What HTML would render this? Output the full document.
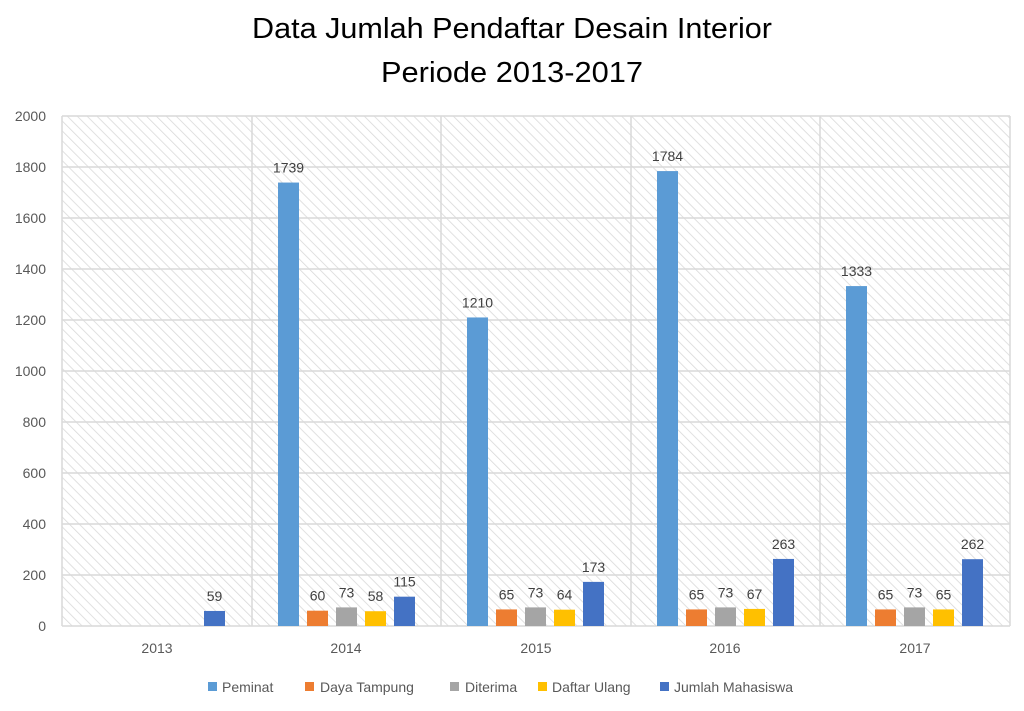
<!DOCTYPE html>
<html><head><meta charset="utf-8"><style>
body{margin:0;background:#fff}
svg text{font-family:"Liberation Sans",sans-serif}
</style></head><body>
<svg width="1024" height="706" xmlns="http://www.w3.org/2000/svg">
<defs>
<pattern id="h" width="7" height="7" patternUnits="userSpaceOnUse" patternTransform="rotate(-45)">
<rect width="7" height="7" fill="#fff"/><line x1="0" y1="0" x2="0" y2="7" stroke="#d9d9d9" stroke-width="1.6"/>
</pattern>
</defs>
<rect width="1024" height="706" fill="#fff"/>
<text x="512" y="38" font-size="29" text-anchor="middle" fill="#000" textLength="520" lengthAdjust="spacingAndGlyphs">Data Jumlah Pendaftar Desain Interior</text>
<text x="512" y="82" font-size="29" text-anchor="middle" fill="#000" textLength="262" lengthAdjust="spacingAndGlyphs">Periode 2013-2017</text>
<rect x="62" y="116" width="948" height="510" fill="url(#h)"/>
<g stroke="#d9d9d9" stroke-width="1.5">
<line x1="62" y1="116" x2="1010" y2="116"/><line x1="62" y1="167" x2="1010" y2="167"/><line x1="62" y1="218" x2="1010" y2="218"/><line x1="62" y1="269" x2="1010" y2="269"/><line x1="62" y1="320" x2="1010" y2="320"/><line x1="62" y1="371" x2="1010" y2="371"/><line x1="62" y1="422" x2="1010" y2="422"/><line x1="62" y1="473" x2="1010" y2="473"/><line x1="62" y1="524" x2="1010" y2="524"/><line x1="62" y1="575" x2="1010" y2="575"/>
<line x1="62" y1="116" x2="62" y2="626"/><line x1="252" y1="116" x2="252" y2="626"/><line x1="441" y1="116" x2="441" y2="626"/><line x1="631" y1="116" x2="631" y2="626"/><line x1="820" y1="116" x2="820" y2="626"/><line x1="1010" y1="116" x2="1010" y2="626"/>
<line x1="62" y1="626" x2="1010" y2="626"/>
</g>
<g font-size="14" fill="#595959" text-anchor="end">
<text x="46" y="121">2000</text><text x="46" y="172">1800</text><text x="46" y="223">1600</text><text x="46" y="274">1400</text><text x="46" y="325">1200</text><text x="46" y="376">1000</text><text x="46" y="427">800</text><text x="46" y="478">600</text><text x="46" y="529">400</text><text x="46" y="580">200</text><text x="46" y="631">0</text>
</g>
<g font-size="14" fill="#595959" text-anchor="middle">
<text x="157" y="653">2013</text><text x="346" y="653">2014</text><text x="536" y="653">2015</text><text x="725" y="653">2016</text><text x="915" y="653">2017</text>
</g>
<g id="bars"></g>
<g font-size="14" fill="#404040" text-anchor="middle" id="lbl"></g>
<g font-size="14" fill="#595959">
<rect x="208" y="682" width="9" height="9" fill="#5b9bd5"/><text x="222" y="692">Peminat</text>
<rect x="305" y="682" width="9" height="9" fill="#ed7d31"/><text x="320" y="692">Daya Tampung</text>
<rect x="450" y="682" width="9" height="9" fill="#a5a5a5"/><text x="465" y="692">Diterima</text>
<rect x="538" y="682" width="9" height="9" fill="#ffc000"/><text x="552" y="692">Daftar Ulang</text>
<rect x="660" y="682" width="9" height="9" fill="#4472c4"/><text x="674" y="692">Jumlah Mahasiswa</text>
</g>
<script>
var d=[[null,null,null,null,59],[1739,60,73,58,115],[1210,65,73,64,173],[1784,65,73,67,263],[1333,65,73,65,262]];
var c=["#5b9bd5","#ed7d31","#a5a5a5","#ffc000","#4472c4"];
var g0=[62,252,441,631,820],ns="http://www.w3.org/2000/svg",b=document.getElementById("bars"),l=document.getElementById("lbl");
d.forEach(function(r,i){r.forEach(function(v,j){if(v==null)return;var x=g0[i]+26+j*29,h=v*0.255;
var e=document.createElementNS(ns,"rect");e.setAttribute("x",x);e.setAttribute("y",626-h);e.setAttribute("width",21);e.setAttribute("height",h);e.setAttribute("fill",c[j]);b.appendChild(e);
var t=document.createElementNS(ns,"text");t.setAttribute("x",x+10.5);t.setAttribute("y",626-h-10);t.textContent=v;l.appendChild(t);});});
</script>
</svg>
</body></html>
